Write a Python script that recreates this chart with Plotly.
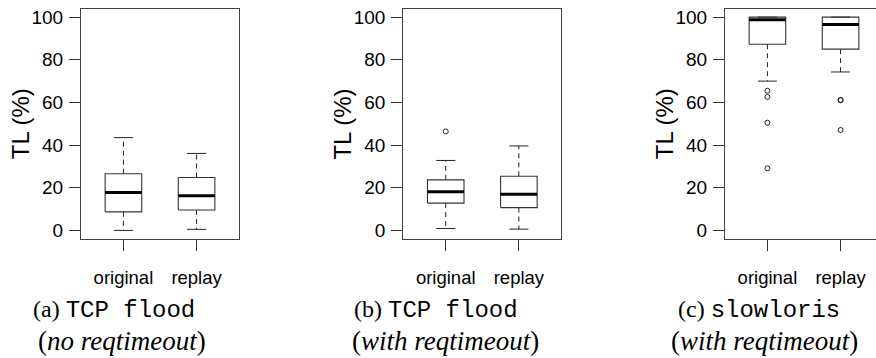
import plotly.graph_objects as go

W, H = 876, 358

categories = ["original", "replay"]
panel_keys = ["a", "b", "c"]

# five-number summaries per panel: [original, replay]
lower_whisker = {"a": [0.0, 0.5], "b": [0.9, 0.6], "c": [70.0, 74.3]}
q1 = {"a": [8.7, 9.6], "b": [12.8, 10.7], "c": [87.3, 85.0]}
median = {"a": [17.8, 16.3], "b": [18.1, 17.0], "c": [98.8, 96.5]}
q3 = {"a": [26.6, 24.8], "b": [23.7, 25.4], "c": [100.0, 100.0]}
upper_whisker = {"a": [43.5, 36.1], "b": [32.8, 39.6], "c": [100.0, 100.0]}
outliers = {
    "a": [[], []],
    "b": [[46.4], []],
    "c": [[65.5, 62.6, 50.5, 29.1], [61.2, 61.0, 47.1]],
}

y_ticks = [0, 20, 40, 60, 80, 100]
caption_label = {"a": "(a)", "b": "(b)", "c": "(c)"}
caption_code = {"a": "TCP flood", "b": "TCP flood", "c": "slowloris"}
caption_note = {"a": "no reqtimeout", "b": "with reqtimeout", "c": "with reqtimeout"}

# layout (pixels)
plot_left = {"a": 81.0, "b": 403.3, "c": 725.0}
plot_w = 158.0
plot_top, plot_bot = 6.7, 239.6
x_lo, x_hi = 0.42, 2.58
px_per_unit = plot_w / (x_hi - x_lo)
cap1_left = {"a": 31.0, "b": 352.0, "c": 676.0}
cap2_left = {"a": 36.0, "b": 350.0, "c": 669.0}

half_w = 0.25
cap_hw = 0.13

fig = go.Figure()
for k_i, k in enumerate(panel_keys):
    sfx = "" if k_i == 0 else str(k_i + 1)
    xa, ya = "x" + sfx, "y" + sfx
    bx, by, mx, my, wx, wy, cx, cy, ox, oy = [], [], [], [], [], [], [], [], [], []
    for i, _ in enumerate(categories):
        p = i + 1
        bx += [p - half_w, p + half_w, p + half_w, p - half_w, p - half_w, None]
        by += [q1[k][i], q1[k][i], q3[k][i], q3[k][i], q1[k][i], None]
        mx += [p - half_w, p + half_w, None]
        my += [median[k][i], median[k][i], None]
        wx += [p, p, None, p, p, None]
        wy += [q3[k][i], upper_whisker[k][i], None, q1[k][i], lower_whisker[k][i], None]
        cx += [p - cap_hw, p + cap_hw, None, p - cap_hw, p + cap_hw, None]
        cy += [upper_whisker[k][i], upper_whisker[k][i], None, lower_whisker[k][i], lower_whisker[k][i], None]
        for v in outliers[k][i]:
            ox.append(p)
            oy.append(v)
    common = dict(xaxis=xa, yaxis=ya, showlegend=False, hoverinfo="skip")
    fig.add_trace(go.Scatter(x=wx, y=wy, mode="lines", line=dict(color="#222", width=1, dash="5px,4px"), **common))
    fig.add_trace(go.Scatter(x=cx, y=cy, mode="lines", line=dict(color="#222", width=1), **common))
    fig.add_trace(go.Scatter(x=bx, y=by, mode="lines", line=dict(color="#333", width=1.1), **common))
    fig.add_trace(go.Scatter(x=mx, y=my, mode="lines", line=dict(color="black", width=3), **common))
    fig.add_trace(go.Scatter(x=ox, y=oy, mode="markers",
                             marker=dict(symbol="circle-open", size=5, color="#222", line=dict(width=1)), **common))

    left = plot_left[k]
    right = min(left + plot_w, W)
    xr_hi = x_lo + (right - left) / px_per_unit
    xkey = "xaxis" + sfx
    ykey = "yaxis" + sfx
    fig.layout[xkey] = dict(
        domain=[left / W, right / W], range=[x_lo, xr_hi], anchor=ya,
        tickvals=[1, 2], ticktext=categories, ticks="outside", ticklen=11,
        tickcolor="#333", tickwidth=1.2, ticklabelstandoff=11,
        showline=True, linecolor="#444", linewidth=1.2, mirror=True,
        showgrid=False, zeroline=False, fixedrange=True,
        tickfont=dict(family="Liberation Sans", size=18.5, color="black"),
    )
    fig.layout[ykey] = dict(
        domain=[1 - plot_bot / H, 1 - plot_top / H], range=[-4, 104], anchor=xa,
        tickvals=y_ticks, ticks="outside", ticklen=11, tickcolor="#333", tickwidth=1.2,
        ticklabelstandoff=2,
        showline=True, linecolor="#444", linewidth=1.2, mirror=(k != "c"),
        showgrid=False, zeroline=False, fixedrange=True,
        tickfont=dict(family="Liberation Sans", size=19, color="black"),
    )
    # y title
    fig.add_annotation(
        text="TL (%)", xref="paper", yref="paper", x=(left - 60.5) / W,
        y=1 - (plot_top + plot_bot) / 2 / H, textangle=-90, showarrow=False,
        xanchor="center", yanchor="middle",
        font=dict(family="Liberation Sans", size=24, color="black"),
    )
    # caption line 1
    fig.add_annotation(
        text=(caption_label[k] + " <span style=\"font-family:'Liberation Mono'\">"
              + caption_code[k] + "</span>"),
        xref="paper", yref="paper", x=cap1_left[k] / W, y=1 - 311 / H,
        xanchor="left", yanchor="middle", showarrow=False,
        font=dict(family="Liberation Serif", size=24, color="black"),
    )
    # caption line 2
    fig.add_annotation(
        text="(<i>" + caption_note[k] + "</i>)",
        xref="paper", yref="paper", x=cap2_left[k] / W, y=1 - 343 / H,
        xanchor="left", yanchor="middle", showarrow=False,
        font=dict(family="Liberation Serif", size=27, color="black"),
    )

fig.update_layout(
    width=W, height=H, margin=dict(l=0, r=0, t=0, b=0),
    paper_bgcolor="white", plot_bgcolor="white",
)
fig.write_html("out.html", config={"displayModeBar": False})
